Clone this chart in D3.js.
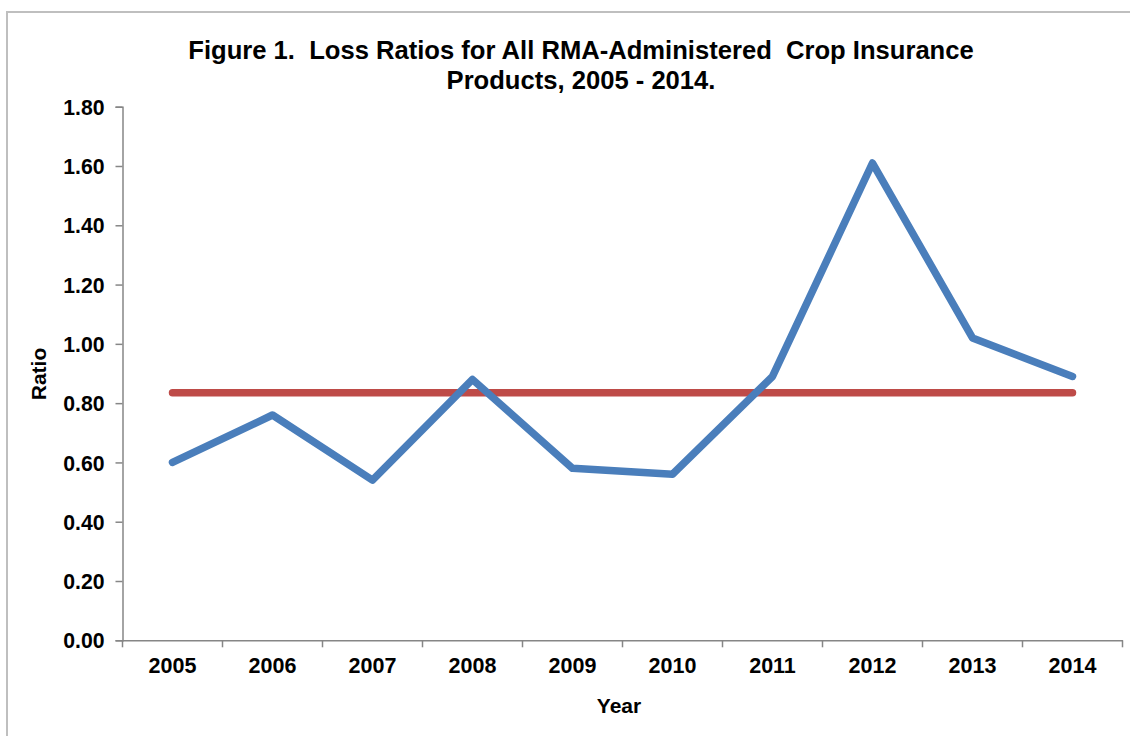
<!DOCTYPE html>
<html><head><meta charset="utf-8">
<script src="https://cdn.jsdelivr.net/npm/d3@7"></script>
<style>body{margin:0;background:#fff}svg{display:block}text{font-family:"Liberation Sans",Arial,sans-serif;font-weight:bold;fill:#000}</style>
</head><body>
<svg id="c" width="1130" height="736"></svg>
<script>
const years = ["2005","2006","2007","2008","2009","2010","2011","2012","2013","2014"];
const lossRatio = [0.60,0.76,0.54,0.88,0.58,0.56,0.89,1.61,1.02,0.89];
const averageRatio = [0.835,0.835,0.835,0.835,0.835,0.835,0.835,0.835,0.835,0.835];
const yTicks = [0,0.2,0.4,0.6,0.8,1.0,1.2,1.4,1.6,1.8];
const titleLines = ["Figure 1.  Loss Ratios for All RMA-Administered  Crop Insurance","Products, 2005 - 2014."];

const svg = d3.select("#c");
svg.append("rect").attr("x",7).attr("y",12).attr("width",1140).attr("height",740)
  .attr("fill","none").attr("stroke","#bfbfbf").attr("stroke-width",2);

const L=122.5,R=1122.5,T=106.7,B=640.3;
const x = d3.scaleBand().domain(years).range([L,R]);
const y = d3.scaleLinear().domain([0,1.8]).range([B,T]);
const axisColor="#868686";

// y axis
const ya = svg.append("g").attr("transform",`translate(${L},0)`)
  .call(d3.axisLeft(y).tickValues(yTicks).tickFormat(d3.format(".2f")).tickSize(7).tickPadding(11));
ya.select(".domain").attr("stroke",axisColor).attr("stroke-width",1.5);
ya.selectAll(".tick line").attr("stroke",axisColor).attr("stroke-width",1.5);
ya.selectAll(".tick text").attr("font-size",21.2).attr("font-family","Liberation Sans, Arial, sans-serif").attr("font-weight","bold").attr("fill","#000").attr("dy","0.36em");

// x axis
const xa = svg.append("g").attr("transform",`translate(0,${B})`)
  .call(d3.axisBottom(x).tickSize(0).tickPadding(17));
xa.select(".domain").attr("stroke",axisColor).attr("stroke-width",1.5);
xa.selectAll(".tick text").attr("font-size",21.5).attr("font-family","Liberation Sans, Arial, sans-serif").attr("font-weight","bold").attr("fill","#000").attr("dy","0.71em");
// boundary ticks
const bounds = years.map(d=>x(d)).concat([x(years[years.length-1])+x.bandwidth()]);
svg.append("g").selectAll("line").data(bounds).join("line")
  .attr("x1",d=>d).attr("x2",d=>d).attr("y1",B).attr("y2",B+7)
  .attr("stroke",axisColor).attr("stroke-width",1.5);

const cx = d=>x(d)+x.bandwidth()/2;
const line = d3.line().x(d=>cx(d[0])).y(d=>y(d[1]));
svg.append("path").datum(years.map((d,i)=>[d,averageRatio[i]])).attr("d",line)
  .attr("fill","none").attr("stroke","#be4b48").attr("stroke-width",7.5).attr("stroke-linecap","round").attr("stroke-linejoin","round");
svg.append("path").datum(years.map((d,i)=>[d,lossRatio[i]])).attr("d",line)
  .attr("fill","none").attr("stroke","#4a7ebb").attr("stroke-width",7.5).attr("stroke-linecap","round").attr("stroke-linejoin","round");

// title
svg.append("text").attr("x",581).attr("y",59).attr("text-anchor","middle").attr("font-size",25.6).style("white-space","pre").text(titleLines[0]);
svg.append("text").attr("x",581).attr("y",89).attr("text-anchor","middle").attr("font-size",25.6).text(titleLines[1]);

svg.append("text").attr("transform","translate(46,374) rotate(-90)").attr("text-anchor","middle").attr("font-size",21).text("Ratio");
svg.append("text").attr("x",619).attr("y",713).attr("text-anchor","middle").attr("font-size",21).text("Year");
</script>
</body></html>
